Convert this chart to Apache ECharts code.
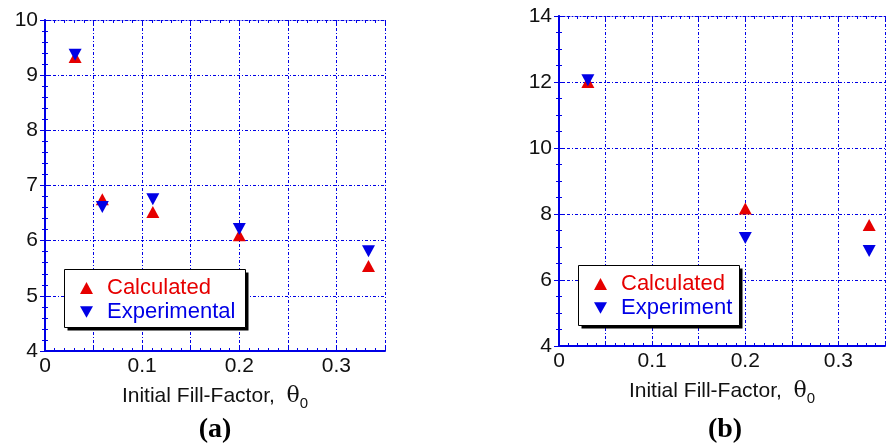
<!DOCTYPE html>
<html>
<head>
<meta charset="utf-8">
<script src="https://cdn.jsdelivr.net/npm/echarts@6/dist/echarts.min.js"></script>
<style>
    html, body { margin: 0; padding: 0; background: #fff; }
    #chart { width: 888px; height: 447px; }
</style>
</head>
<body>
<div id="chart"></div>
<script>
    // (a) 数据
    var xA = [0.031, 0.059, 0.111, 0.2, 0.333];
    var calcA = [9.33, 6.75, 6.52, 6.10, 5.54];
    var expA = [9.37, 6.61, 6.75, 6.21, 5.81];
    // (b) 数据
    var xB = [0.031, 0.2, 0.333];
    var calcB = [12.0, 8.17, 7.67];
    var expB = [12.05, 7.27, 6.88];

    var xTicks = [0, 0.1, 0.2, 0.3];
    var nameA = 'Calculated', nameExpA = 'Experimental', nameExpB = 'Experiment';

    var BLUE = '#0000e6', RED = '#e60000';
    var FONT = 'Liberation Sans';
    var downTri = 'path://M0,0L20,0L10,18Z';

    function pairs(xs, ys) {
        return xs.map(function (x, i) { return [x, ys[i]]; });
    }

    var gridLine = { show: true, lineStyle: { color: BLUE, width: 1, type: [3, 2, 1, 2] } };

    function xAxes(gi) {
        return [{
            type: 'value', gridIndex: gi, min: 0, max: 0.35, interval: 0.05,
            axisLine: { lineStyle: { color: BLUE, width: 2 } },
            axisTick: { inside: true, length: 5, lineStyle: { color: BLUE } },
            minorTick: { show: true, splitNumber: 5, length: 3, lineStyle: { color: BLUE } },
            splitLine: gridLine,
            axisLabel: {
                color: '#111', fontSize: 21, fontFamily: FONT, margin: 5,
                formatter: function (v) {
                    for (var i = 0; i < xTicks.length; i++) {
                        if (Math.abs(v - xTicks[i]) < 1e-6) return String(xTicks[i]);
                    }
                    return '';
                }
            },
            name: '{n|Initial Fill-Factor,  }{t|θ}{s|0}',
            nameLocation: 'middle', nameGap: 30,
            nameTextStyle: {
                rich: {
                    n: { fontSize: 21, fontFamily: FONT, color: '#111', lineHeight: 30, verticalAlign: 'middle' },
                    t: { fontSize: 22, fontFamily: 'DejaVu Serif', color: '#111', lineHeight: 30, verticalAlign: 'middle' },
                    s: { fontSize: 15, fontFamily: FONT, color: '#111', lineHeight: 30, verticalAlign: 'bottom' }
                }
            }
        }, {
            type: 'value', gridIndex: gi, min: 0, max: 0.35, interval: 0.05, position: 'top',
            axisLine: { lineStyle: { color: BLUE, width: 1, type: [3, 2, 1, 2] } },
            axisTick: { inside: true, length: 5, lineStyle: { color: BLUE } },
            minorTick: { show: true, splitNumber: 5, length: 3, lineStyle: { color: BLUE } },
            splitLine: { show: false },
            axisLabel: { show: false }
        }];
    }

    function yAxes(gi, min, max, step, minorN) {
        return [{
            type: 'value', gridIndex: gi, min: min, max: max, interval: step,
            axisLine: { show: true, lineStyle: { color: BLUE, width: 2 } },
            axisTick: { show: true, inside: true, length: 5, lineStyle: { color: BLUE } },
            minorTick: { show: true, splitNumber: minorN, length: 3, lineStyle: { color: BLUE } },
            splitLine: gridLine,
            axisLabel: { color: '#111', fontSize: 21, fontFamily: FONT, margin: 7 }
        }, {
            type: 'value', gridIndex: gi, min: min, max: max, interval: step, position: 'right',
            axisLine: { show: true, lineStyle: { color: BLUE, width: 1.5 } },
            axisTick: { show: true, inside: true, length: 5, lineStyle: { color: BLUE } },
            minorTick: { show: true, splitNumber: minorN, length: 3, lineStyle: { color: BLUE } },
            splitLine: { show: false },
            axisLabel: { show: false }
        }];
    }

    function legendBox(left, top, expName) {
        return {
            orient: 'vertical', left: left, top: top,
            data: [
                { name: nameA, icon: 'triangle', textStyle: { color: RED } },
                { name: expName, icon: downTri, textStyle: { color: BLUE } }
            ],
            itemWidth: 13, itemHeight: 12, itemGap: 2,
            padding: [8, 11, 6, 16],
            textStyle: { fontSize: 22, fontFamily: FONT, padding: [0, 0, 0, 9] },
            selectedMode: false, z: 6
        };
    }

    // 图例背景框 + 阴影
    function legendFrame(x, y, w, h) {
        return [
            { type: 'rect', z: 5, shape: { x: x + 3, y: y + 3, width: w, height: h }, style: { fill: '#000' } },
            { type: 'rect', z: 5, shape: { x: x, y: y, width: w, height: h }, style: { fill: '#fff', stroke: '#000', lineWidth: 1 } }
        ];
    }

    function scatter(name, gi, data, color, symbol) {
        return {
            name: name, type: 'scatter', xAxisIndex: gi * 2, yAxisIndex: gi * 2,
            data: data, symbol: symbol, symbolSize: [13, 12],
            itemStyle: { color: color, opacity: 1 }, z: 5
        };
    }

    var chart = echarts.init(document.getElementById('chart'), null, { renderer: 'canvas' });
    chart.setOption({
        animation: false,
        grid: [
            { left: 45, top: 20, width: 340, height: 331 },
            { left: 559, top: 16, width: 340, height: 330 }
        ],
        xAxis: xAxes(0).concat(xAxes(1)),
        yAxis: yAxes(0, 4, 10, 1, 5).concat(yAxes(1, 4, 14, 2, 4)),
        legend: [
            legendBox(64, 269, nameExpA),
            legendBox(578, 265, nameExpB)
        ],
        series: [
            scatter(nameA, 0, pairs(xA, calcA), RED, 'triangle'),
            scatter(nameExpA, 0, pairs(xA, expA), BLUE, downTri),
            scatter(nameA, 1, pairs(xB, calcB), RED, 'triangle'),
            scatter(nameExpB, 1, pairs(xB, expB), BLUE, downTri)
        ],
        graphic: legendFrame(64.5, 269.5, 181, 58).concat(legendFrame(578.5, 265.5, 161, 60)).concat([
            { type: 'text', style: { text: '(a)', x: 215, y: 430, align: 'center', verticalAlign: 'middle', font: 'bold 28px "Liberation Serif"', fill: '#000' } },
            { type: 'text', style: { text: '(b)', x: 725, y: 430, align: 'center', verticalAlign: 'middle', font: 'bold 28px "Liberation Serif"', fill: '#000' } }
        ])
    });
</script>
</body>
</html>
